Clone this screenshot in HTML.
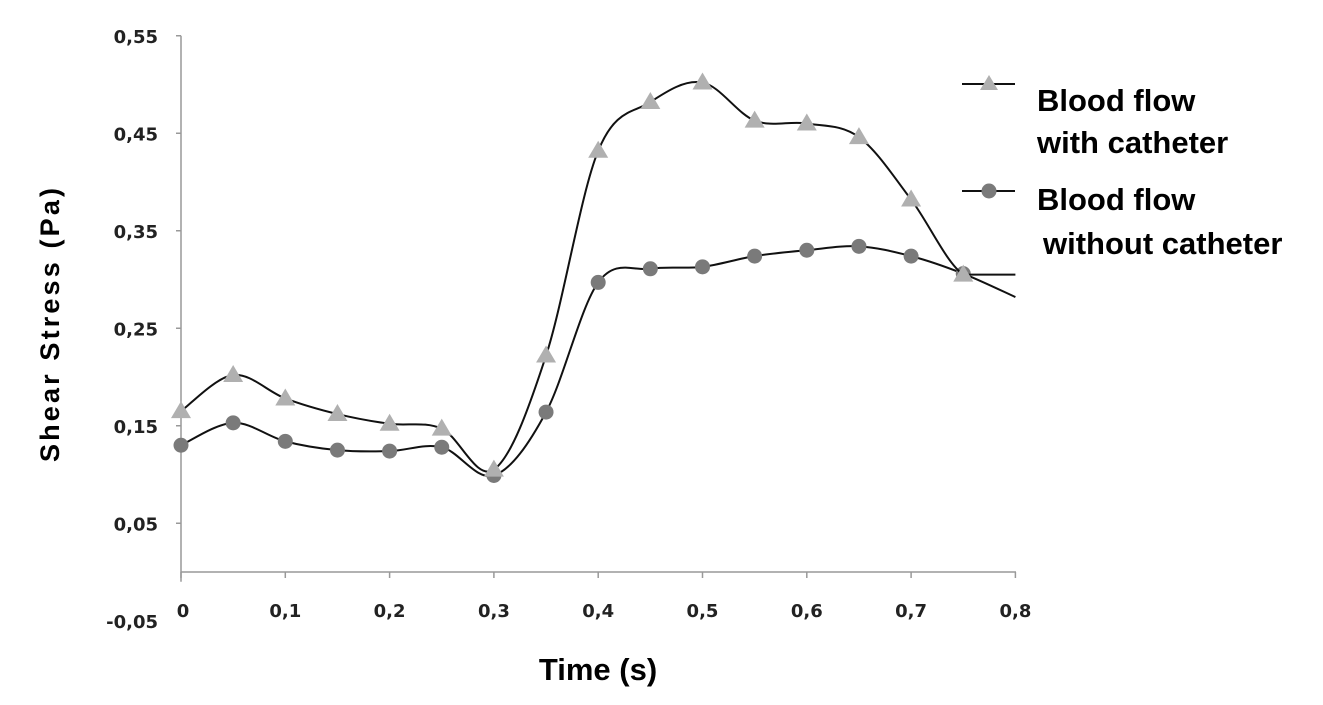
<!DOCTYPE html>
<html><head><meta charset="utf-8"><style>
body{margin:0;background:#fff;width:1323px;height:705px;overflow:hidden}
svg{display:block;font-family:"Liberation Sans",Arial,sans-serif}
</style></head><body>
<svg id="chart" width="1323" height="705" viewBox="0 0 1323 705">
<g id="axes"></g>
<g id="series"></g>
<text transform="translate(59,325) rotate(-90)" text-anchor="middle" font-size="27" font-weight="bold" textLength="274" lengthAdjust="spacing">Shear Stress (Pa)</text>
<text x="598" y="680" text-anchor="middle" font-size="31" font-weight="bold">Time (s)</text>
<g font-size="31" font-weight="bold">
 <g>
  <line x1="962" y1="84" x2="1015" y2="84" stroke="#111" stroke-width="2"/>
  <polygon points="989,75 998,90 980,90" fill="#b0b0b0"/>
  <text x="1037" y="111">Blood flow</text>
  <text x="1037" y="153">with catheter</text>
 </g>
 <g>
  <line x1="962" y1="191" x2="1015" y2="191" stroke="#111" stroke-width="2"/>
  <circle cx="989" cy="191" r="7.5" fill="#7a7a7a"/>
  <text x="1037" y="210">Blood flow</text>
  <text x="1043" y="254">without catheter</text>
 </g>
</g>
</svg>
<script>
const xValues=[0,0.05,0.1,0.15,0.2,0.25,0.3,0.35,0.4,0.45,0.5,0.55,0.6,0.65,0.7,0.75,0.8];
const withCatheter=[0.165,0.202,0.178,0.162,0.152,0.147,0.105,0.222,0.432,0.482,0.502,0.463,0.46,0.446,0.382,0.305,0.305];
const withoutCatheter=[0.13,0.153,0.134,0.125,0.124,0.128,0.099,0.164,0.297,0.311,0.313,0.324,0.330,0.334,0.324,0.306,0.282];
const markerCount=16;
const xTicks=[0,0.1,0.2,0.3,0.4,0.5,0.6,0.7,0.8];
const xTickLabels=["0","0,1","0,2","0,3","0,4","0,5","0,6","0,7","0,8"];
const yTicks=[-0.05,0.05,0.15,0.25,0.35,0.45,0.55];
const yTickLabels=["-0,05","0,05","0,15","0,25","0,35","0,45","0,55"];
const NS="http://www.w3.org/2000/svg";
const X=v=>181+v*1043;
const Y=v=>572-v*975;
function mk(tag,attrs,parent){const e=document.createElementNS(NS,tag);for(const k in attrs)e.setAttribute(k,attrs[k]);parent.appendChild(e);return e;}
const axes=document.getElementById('axes');
const tf='"DejaVu Sans",Verdana,sans-serif';
let yl=mk('line',{x1:181,y1:Y(0.55),x2:181,y2:Y(-0.01),stroke:'#999','stroke-width':1.5},axes);


let xl=mk('line',{x1:181,y1:Y(0),x2:1016,y2:Y(0),stroke:'#999','stroke-width':1.5},axes);


yTicks.forEach((t,i)=>{
 if(t>=0){const tk=mk('line',{x1:176,y1:Y(t),x2:181,y2:Y(t),stroke:'#999','stroke-width':1.5},axes);
 
 }
 const tx=mk('text',{x:158,y:Y(t)+7,'text-anchor':'end','font-size':18,'font-weight':'bold',fill:'#222','font-family':tf},axes);
 tx.textContent=yTickLabels[i];
 
 
});
xTicks.forEach((t,i)=>{
 const tk=mk('line',{x1:X(t),y1:Y(0),x2:X(t),y2:Y(0)+6,stroke:'#999','stroke-width':1.5},axes);
 
 
 const tx=mk('text',{x:X(t)+(i==0?2:0),y:617,'text-anchor':'middle','font-size':18,'font-weight':'bold',fill:'#222','font-family':tf},axes);
 tx.textContent=xTickLabels[i];
 
 
});
function smooth(pts){
 let d=`M${pts[0][0]},${pts[0][1]}`;
 for(let i=0;i<pts.length-1;i++){
  const p0=pts[Math.max(0,i-1)],p1=pts[i],p2=pts[i+1],p3=pts[Math.min(pts.length-1,i+2)];
  const t=1/6;
  let c1y=p1[1]+(p2[1]-p0[1])*t, c2y=p2[1]-(p3[1]-p1[1])*t;
  if(p1[1]===p2[1]){c1y=p1[1];c2y=p2[1];}
  d+=` C${p1[0]+(p2[0]-p0[0])*t},${c1y} ${p2[0]-(p3[0]-p1[0])*t},${c2y} ${p2[0]},${p2[1]}`;
 }
 return d;
}
const sg=document.getElementById('series');
function drawSeries(vals,name,marker){
 const pts=xValues.map((x,i)=>[X(x),Y(vals[i])]);
 const p=mk('path',{d:smooth(pts),fill:'none',stroke:'#111','stroke-width':2},sg);
 
 
 for(let i=0;i<markerCount;i++){
  const [cx,cy]=pts[i];let m;
  if(marker==='tri') m=mk('polygon',{points:`${cx},${cy-10} ${cx+10},${cy+7} ${cx-10},${cy+7}`,fill:'#b0b0b0'},sg);
  else m=mk('circle',{cx:cx,cy:cy,r:7.5,fill:'#7a7a7a'},sg);
  
  
 }
}
drawSeries(withoutCatheter,'without-catheter','circle');
drawSeries(withCatheter,'with-catheter','tri');
</script>
</body></html>
